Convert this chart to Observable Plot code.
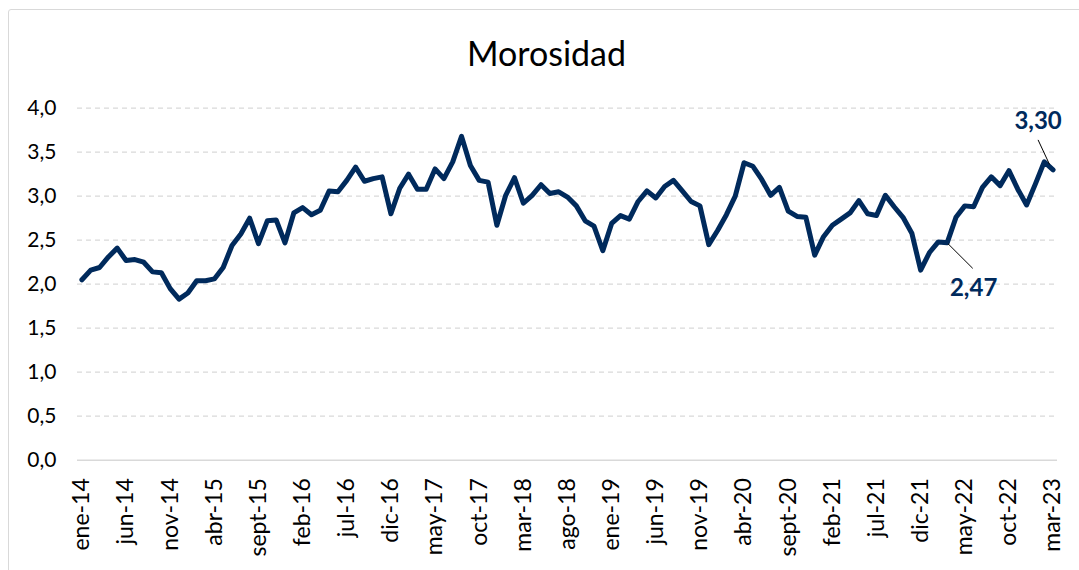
<!DOCTYPE html>
<html>
<head>
<meta charset="utf-8">
<script src="https://cdn.jsdelivr.net/npm/d3@7"></script>
<script src="https://cdn.jsdelivr.net/npm/@observablehq/plot@0.6"></script>
<style>
  html, body { margin: 0; padding: 0; background: #fff; }
  #wrap { position: relative; width: 1079px; height: 570px; overflow: hidden; font-family: Lato, "Noto Sans", sans-serif; }
  #frame { position: absolute; left: 8px; top: 9px; width: 1200px; height: 700px; border: 1.5px solid #d9d9d9; border-radius: 3px; box-sizing: border-box; }
  #title { position: absolute; left: 0; width: 1093px; top: 36px; text-align: center; font-size: 34px; line-height: 34px; color: #000; }
  #chart { position: absolute; left: 0; top: 0; }
</style>
</head>
<body>
<div id="wrap">
  <div id="frame"></div>
  <div id="chart"></div>
  <div id="title">Morosidad</div>
</div>
<script>
// Month abbreviations and years (category labels)
const monthAbbr = ["ene","feb","mar","abr","may","jun","jul","ago","sept","oct","nov","dic"];
const years = ["14","15","16","17","18","19","20","21","22","23"];

// Monthly delinquency (morosidad) values, ene-14 .. mar-23
const v2014 = [2.05, 2.16, 2.19, 2.31, 2.41, 2.27, 2.28, 2.25, 2.14, 2.13, 1.95, 1.83];
const v2015 = [1.90, 2.04, 2.04, 2.06, 2.19, 2.44, 2.57, 2.75, 2.46, 2.72, 2.73, 2.47];
const v2016 = [2.81, 2.87, 2.79, 2.84, 3.06, 3.05, 3.18, 3.33, 3.17, 3.20, 3.22, 2.80];
const v2017 = [3.09, 3.25, 3.08, 3.08, 3.31, 3.20, 3.39, 3.68, 3.35, 3.18, 3.16, 2.67];
const v2018 = [3.01, 3.21, 2.92, 3.01, 3.13, 3.03, 3.05, 2.99, 2.89, 2.72, 2.66, 2.38];
const v2019 = [2.69, 2.78, 2.74, 2.94, 3.06, 2.98, 3.11, 3.18, 3.06, 2.94, 2.89, 2.45];
const v2020 = [2.61, 2.79, 3.00, 3.38, 3.34, 3.19, 3.01, 3.10, 2.83, 2.77, 2.76, 2.33];
const v2021 = [2.54, 2.67, 2.74, 2.81, 2.95, 2.80, 2.78, 3.01, 2.88, 2.76, 2.58, 2.16];
const v2022 = [2.36, 2.48, 2.47, 2.76, 2.89, 2.88, 3.10, 3.22, 3.12, 3.29, 3.08, 2.90];
const v2023 = [3.14, 3.39, 3.30];

// X tick labels shown on the axis
const tickLabels = ["ene-14","jun-14","nov-14","abr-15","sept-15","feb-16","jul-16","dic-16","may-17","oct-17","mar-18","ago-18","ene-19","jun-19","nov-19","abr-20","sept-20","feb-21","jul-21","dic-21","may-22","oct-22","mar-23"];
// Y ticks
const yTicks = [0, 0.5, 1.0, 1.5, 2.0, 2.5, 3.0, 3.5, 4.0];

// Annotations (labelled points and leader/label placement in data units)
const annotMonths = ["mar-22", "mar-23"];
const annotLabels = ["2,47", "3,30"];
const annotLineFrom = [[98.1, 2.46], [109.6, 3.36]];
const annotLineTo   = [[100.9, 2.18], [108.3, 3.64]];
const annotTextAt   = [[101.0, 1.95], [108.3, 3.85]];

// Build table
const values = [...v2014, ...v2015, ...v2016, ...v2017, ...v2018, ...v2019, ...v2020, ...v2021, ...v2022, ...v2023];
const categories = [];
for (const y of years) for (const m of monthAbbr) categories.push(`${m}-${y}`);
categories.length = values.length;
const data = values.map((v, i) => ({i, cat: categories[i], v}));
const tickIdx = tickLabels.map(l => categories.indexOf(l));

const annots = annotLabels.map((label, k) => ({
  label,
  x1: annotLineFrom[k][0], y1: annotLineFrom[k][1],
  x2: annotLineTo[k][0], y2: annotLineTo[k][1],
  tx: annotTextAt[k][0], ty: annotTextAt[k][1]
}));

const fmt = d => d3.format(".1f")(d).replace(".", ",");
const navy = "#002a5c";

const plot = Plot.plot({
  width: 1079,
  height: 570,
  marginLeft: 77,
  marginRight: 22,
  marginTop: 107.7,
  marginBottom: 110.3,
  style: {fontFamily: "Lato, 'Noto Sans', sans-serif", fontSize: "20px", color: "#000", background: "transparent"},
  x: {type: "linear", domain: [-0.5, values.length - 0.5]},
  y: {domain: [0, 4]},
  marks: [
    Plot.ruleY(yTicks.filter(d => d > 0), {stroke: "#d9d9d9", strokeWidth: 1.3, strokeDasharray: "5,4"}),
    Plot.ruleY([0], {stroke: "#d9d9d9", strokeWidth: 1.5}),
    Plot.axisY({ticks: yTicks, tickFormat: fmt, tickSize: 0, tickPadding: 21, label: null, fontSize: 21}),
    Plot.axisX({ticks: tickIdx, tickFormat: i => categories[i], tickRotate: -90, tickSize: 0, tickPadding: 18, label: null, fontSize: 23}),
    Plot.line(data, {x: "i", y: "v", stroke: navy, strokeWidth: 5, strokeLinejoin: "round", strokeLinecap: "round"}),
    Plot.link(annots, {x1: "x1", y1: "y1", x2: "x2", y2: "y2", stroke: "#000", strokeWidth: 1}),
    Plot.text(annots, {x: "tx", y: "ty", text: "label", fill: navy, fontWeight: "bold", fontSize: 24, textAnchor: "middle", lineAnchor: "middle"})
  ]
});
document.getElementById("chart").appendChild(plot);
</script>
</body>
</html>
